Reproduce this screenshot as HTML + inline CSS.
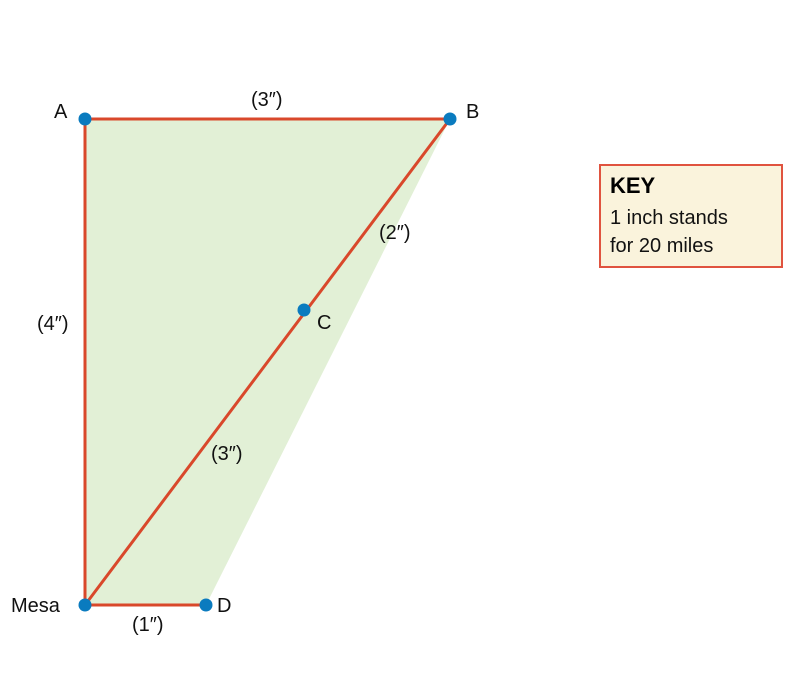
<!DOCTYPE html>
<html><head><meta charset="utf-8"><style>
html,body{margin:0;padding:0;background:#fff;}
svg{display:block;font-family:"Liberation Sans",Arial,sans-serif;}
</style></head><body>
<svg width="800" height="693" viewBox="0 0 800 693">
<polygon points="85,119 450,119 206,605 85,605" fill="#e2f0d6"/>
<g stroke="#d9482b" stroke-width="3" fill="none" stroke-linecap="round">
<line x1="85" y1="119" x2="450" y2="119"/>
<line x1="85" y1="119" x2="85" y2="605"/>
<line x1="85" y1="605" x2="450" y2="119"/>
<line x1="85" y1="605" x2="206" y2="605"/>
</g>
<g fill="#0a7bbf">
<circle cx="85" cy="119" r="6.5"/>
<circle cx="450" cy="119" r="6.5"/>
<circle cx="304" cy="310" r="6.5"/>
<circle cx="85" cy="605" r="6.5"/>
<circle cx="206" cy="605" r="6.5"/>
</g>
<g font-size="20" fill="#111">
<text x="54" y="118">A</text>
<text x="466" y="118">B</text>
<text x="317" y="329">C</text>
<text x="11" y="612">Mesa</text>
<text x="217" y="612">D</text>
<text x="251" y="106">(3″)</text>
<text x="379" y="239">(2″)</text>
<text x="37" y="330">(4″)</text>
<text x="211" y="460">(3″)</text>
<text x="132" y="631">(1″)</text>
</g>
<g>
<rect x="600" y="165" width="182" height="102" fill="#faf3dc" stroke="#e0533f" stroke-width="2"/>
<text x="610" y="193" font-size="22" font-weight="bold" fill="#000">KEY</text>
<text x="610" y="224" font-size="20" fill="#111">1 inch stands</text>
<text x="610" y="252" font-size="20" fill="#111">for 20 miles</text>
</g>
</svg>
</body></html>
